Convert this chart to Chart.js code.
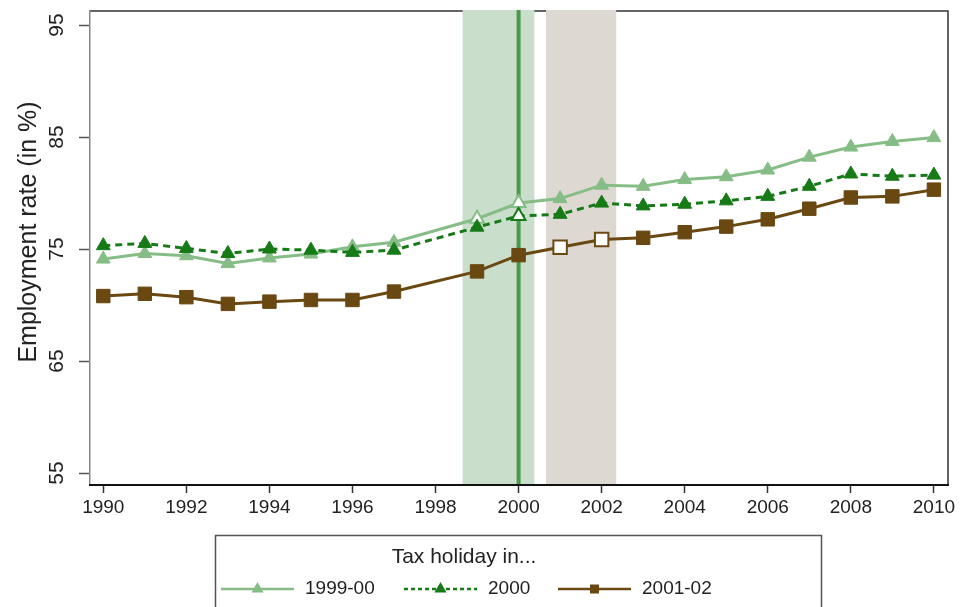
<!DOCTYPE html>
<html>
<head>
<meta charset="utf-8">
<script src="https://cdn.jsdelivr.net/npm/chart.js@4.4.0/dist/chart.umd.min.js"></script>
<style>
  html, body { margin: 0; padding: 0; background: #fff; }
</style>
</head>
<body>
<canvas id="myChart" width="961" height="607"></canvas>
<script>
const years = [1990, 1991, 1992, 1993, 1994, 1995, 1996, 1997, 1998, 1999, 2000,
  2001, 2002, 2003, 2004, 2005, 2006, 2007, 2008, 2009, 2010];
const rate9900 = [74.1, 74.6, 74.4, 73.7, 74.2, 74.55, 75.2, 75.6, null, 77.7, 79.1,
  79.5, 80.7, 80.6, 81.2, 81.45, 82.05, 83.2, 84.1, 84.6, 84.95];
const rate2000 = [75.3, 75.5, 75.05, 74.6, 75.0, 74.9, 74.7, 74.9, null, 76.95, 77.95,
  78.1, 79.1, 78.85, 79.0, 79.3, 79.7, 80.6, 81.7, 81.5, 81.6];
const rate0102 = [70.8, 71.0, 70.7, 70.1, 70.3, 70.45, 70.45, 71.2, null, 73.0, 74.45,
  75.15, 75.85, 76.0, 76.5, 77.0, 77.65, 78.6, 79.6, 79.7, 80.3];

// hollow markers = tax holiday years of each group
const hollow9900 = [1999, 2000];
const hollow2000 = [2000];
const hollow0102 = [2001, 2002];

const seriesLabels = ["1999-00", "2000", "2001-02"];
const xTicks = [1990, 1992, 1994, 1996, 1998, 2000, 2002, 2004, 2006, 2008, 2010];
const yTicks = [55, 65, 75, 85, 95];
const yTitle = "Employment rate (in %)";

const holidayBand = [1998.65, 2000.38];
const laterBand = [2000.66, 2002.35];
const holidayLine = 2000;

const lightGreen = "#86bd86";
const darkGreen = "#167a16";
const brown = "#6a4812";
const font = "'Liberation Sans', Arial, sans-serif";

const toPoints = vals => years.map((yr, i) => ({ x: yr, y: vals[i] }));

const shading = {
  id: "shading",
  beforeDraw: chart => {
    const ctx = chart.ctx;
    const a = chart.chartArea;
    const xs = chart.scales.x;
    ctx.save();
    // frame top / right
    ctx.strokeStyle = "#333";
    ctx.lineWidth = 1.5;
    ctx.beginPath();
    ctx.moveTo(a.left, a.top);
    ctx.lineTo(a.right, a.top);
    ctx.lineTo(a.right, a.bottom);
    ctx.stroke();

    ctx.fillStyle = "#cadecc";
    let x0 = xs.getPixelForValue(holidayBand[0]);
    let x1 = xs.getPixelForValue(holidayBand[1]);
    ctx.fillRect(x0, a.top - 1, x1 - x0, a.bottom - a.top + 1);
    ctx.fillStyle = "#ddd8d2";
    x0 = xs.getPixelForValue(laterBand[0]);
    x1 = xs.getPixelForValue(laterBand[1]);
    ctx.fillRect(x0, a.top - 1, x1 - x0, a.bottom - a.top + 1);

    const lx = xs.getPixelForValue(holidayLine);
    ctx.strokeStyle = "#4a9a4a";
    ctx.lineWidth = 4;
    ctx.beginPath();
    ctx.moveTo(lx, a.top - 1);
    ctx.lineTo(lx, a.bottom);
    ctx.stroke();

    // y axis title
    ctx.translate(29, 232);
    ctx.rotate(-Math.PI / 2);
    ctx.fillStyle = "#222";
    ctx.font = "25px " + font;
    ctx.textAlign = "center";
    ctx.textBaseline = "middle";
    ctx.fillText(yTitle, 0, 0);
    ctx.restore();
  }
};

const drawMarker = (ctx, style, x, y, r, color) => {
  ctx.fillStyle = color;
  ctx.beginPath();
  if (style === "triangle") {
    ctx.moveTo(x, y - r);
    ctx.lineTo(x + r * 0.866, y + r * 0.5);
    ctx.lineTo(x - r * 0.866, y + r * 0.5);
    ctx.closePath();
  } else {
    ctx.rect(x - r, y - r, 2 * r, 2 * r);
  }
  ctx.fill();
};

const legendBox = {
  id: "legendBox",
  afterDraw: chart => {
    const ctx = chart.ctx;
    ctx.save();
    ctx.strokeStyle = "#555";
    ctx.lineWidth = 1.5;
    ctx.strokeRect(215.5, 535.5, 606, 90);

    ctx.fillStyle = "#222";
    ctx.font = "21px " + font;
    ctx.textAlign = "center";
    ctx.textBaseline = "middle";
    ctx.fillText("Tax holiday in...", 464, 557);

    const items = [
      { x: 221, color: lightGreen, dash: [], style: "triangle", r: 7 },
      { x: 404, color: darkGreen, dash: [4, 3], style: "triangle", r: 7 },
      { x: 558, color: brown, dash: [], style: "rect", r: 4.5 }
    ];
    const ly = 589;
    items.forEach((it, i) => {
      ctx.strokeStyle = it.color;
      ctx.lineWidth = 2.5;
      ctx.setLineDash(it.dash);
      ctx.beginPath();
      ctx.moveTo(it.x, ly);
      ctx.lineTo(it.x + 73, ly);
      ctx.stroke();
      ctx.setLineDash([]);
      drawMarker(ctx, it.style, it.x + 36.5, ly, it.r, it.color);
      ctx.fillStyle = "#222";
      ctx.font = "19px " + font;
      ctx.textAlign = "left";
      ctx.fillText(seriesLabels[i], it.x + 84, ly);
    });
    ctx.restore();
  }
};

const makeSet = (label, vals, color, style, radius, hollow, dash, order) => ({
  label: label,
  data: toPoints(vals),
  borderColor: color,
  borderWidth: 3,
  borderDash: dash,
  pointStyle: style,
  pointRadius: radius,
  pointBackgroundColor: c => (c.raw && hollow.includes(c.raw.x) ? "#fff" : color),
  pointBorderColor: color,
  pointBorderWidth: c => (c.raw && hollow.includes(c.raw.x) ? 2 : 1),
  spanGaps: true,
  tension: 0,
  order: order
});

const ctx = document.getElementById("myChart").getContext("2d");

new Chart(ctx, {
  type: "line",
  data: {
    datasets: [
      makeSet(seriesLabels[0], rate9900, lightGreen, "triangle", 8, hollow9900, [], 2),
      makeSet(seriesLabels[1], rate2000, darkGreen, "triangle", 8, hollow2000, [7, 5], 1),
      makeSet(seriesLabels[2], rate0102, brown, "rect", 9.5, hollow0102, [], 0)
    ]
  },
  options: {
    responsive: false,
    animation: false,
    layout: { padding: { top: 11, right: 13, left: 0, bottom: 0 } },
    plugins: { legend: { display: false }, tooltip: { enabled: false } },
    scales: {
      x: {
        type: "linear",
        min: 1989.68,
        max: 2010.34,
        afterBuildTicks: s => { s.ticks = xTicks.map(v => ({ value: v })); },
        afterFit: s => { s.height = 122; },
        grid: { drawOnChartArea: false, tickLength: 8, tickColor: "#333", tickWidth: 1.5 },
        border: { color: "#111", width: 2, z: 1 },
        ticks: {
          color: "#222",
          font: { family: font, size: 19 },
          padding: 3,
          maxRotation: 0,
          callback: v => String(v)
        }
      },
      y: {
        min: 53.93,
        max: 96.25,
        afterBuildTicks: s => { s.ticks = yTicks.map(v => ({ value: v })); },
        afterFit: s => { s.width = 90; s.paddingTop = 0; s.paddingBottom = 0; },
        grid: { drawOnChartArea: false, tickLength: 11, tickColor: "#555", tickWidth: 1.5 },
        border: { color: "#888", width: 1.5 },
        ticks: {
          color: "#222",
          font: { family: font, size: 21 },
          minRotation: 90,
          maxRotation: 90,
          crossAlign: "center",
          padding: 10
        }
      }
    }
  },
  plugins: [shading, legendBox]
});
</script>
</body>
</html>
